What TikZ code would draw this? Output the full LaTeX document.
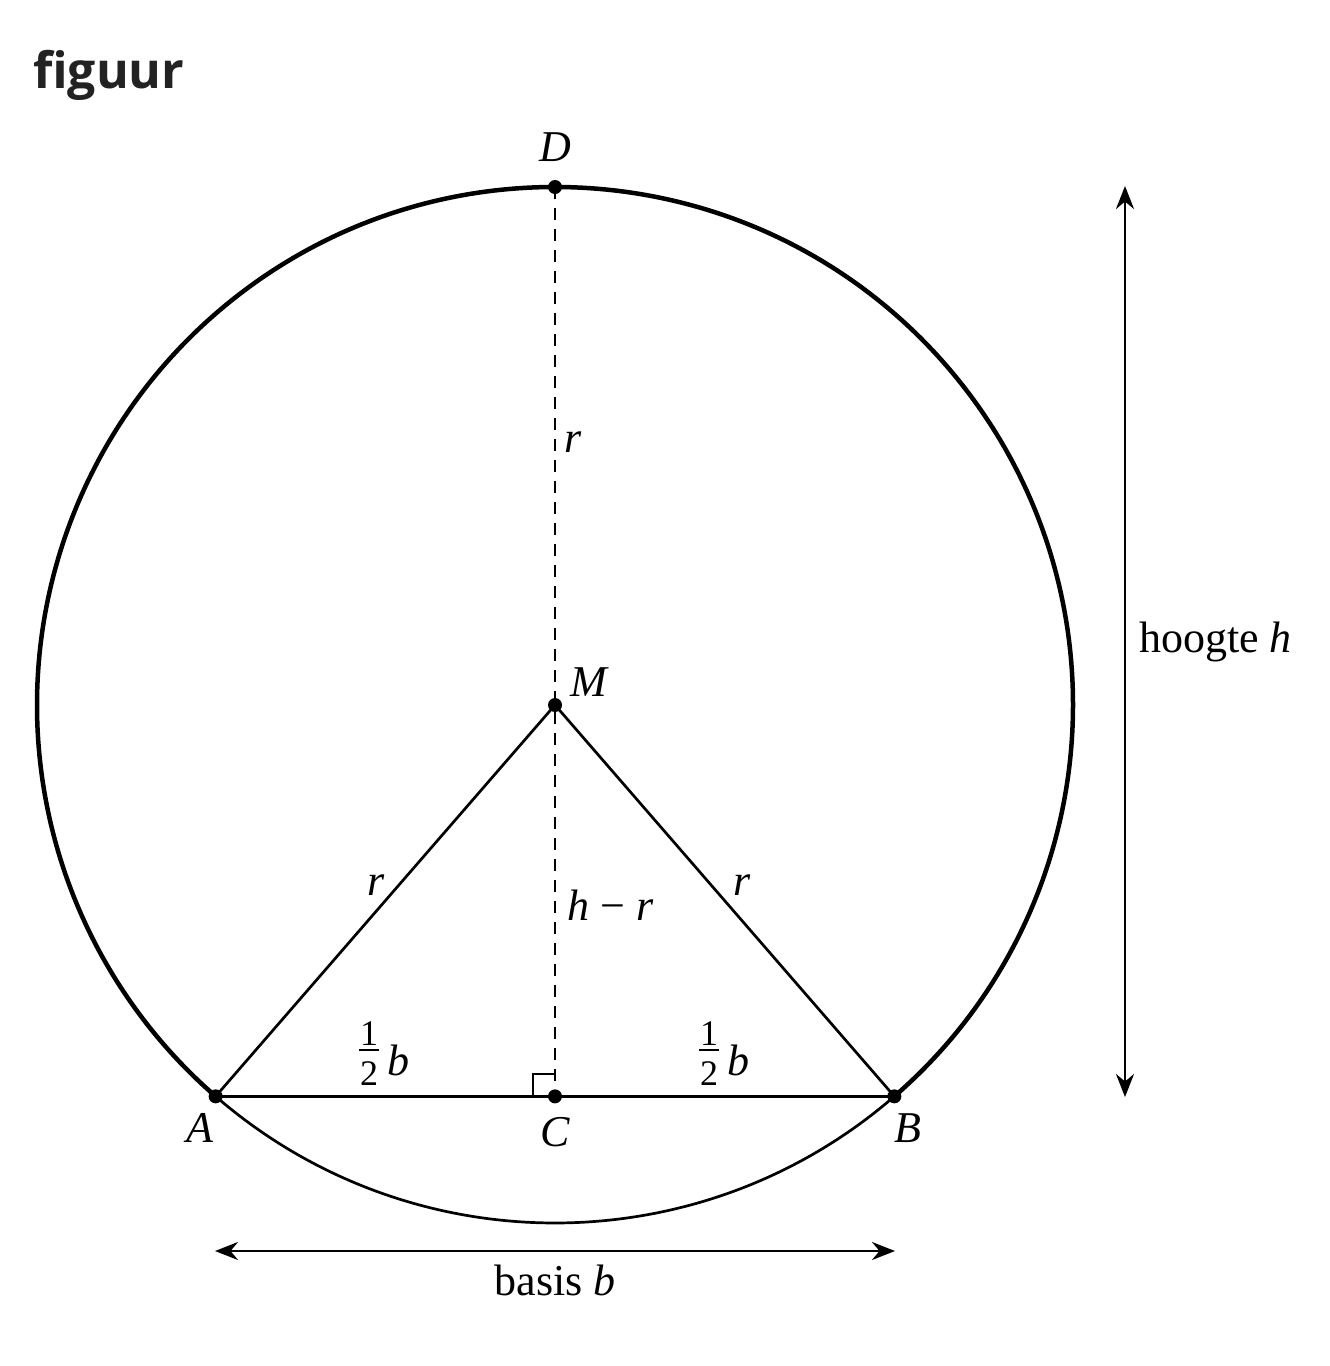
\documentclass[tikz,border=0pt]{standalone}
\usepackage{fontspec}
\setmainfont{Liberation Serif}
\newfontfamily\titlefont{Open Sans}
\usetikzlibrary{arrows.meta,calc}
\definecolor{titlegray}{HTML}{222222}
\newcommand\halfb{\makebox[20pt]{%
  \makebox[0pt]{\raisebox{30pt}{\fontsize{36}{36}\selectfont 1}}%
  \makebox[0pt]{\raisebox{24.2pt}{\rule{20pt}{1.6pt}}}%
  \makebox[0pt]{\raisebox{-10pt}{\fontsize{36}{36}\selectfont 2}}}%
  \hspace{8pt}\textit{b}}
\tikzset{
  thickarc/.style={line width=4.5pt},
  thinline/.style={line width=2.7pt},
  dashline/.style={line width=2pt, dash pattern=on 12pt off 9pt},
  dot/.style={circle, fill=black, inner sep=0pt, minimum size=14pt},
  lbl/.style={font=\fontsize{44}{50}\selectfont, inner sep=0pt},
  dimarrow/.style={line width=2.7pt, {Stealth[length=23pt,width=18pt]}-{Stealth[length=23pt,width=18pt]}},
}
\begin{document}
\begin{tikzpicture}[x=1pt,y=-1pt]
\fill[white] (0,0) rectangle (1330,1366);
\useasboundingbox (0,0) rectangle (1330,1366);
\node[anchor=base west, inner sep=0pt, text=titlegray, font=\titlefont\bfseries\fontsize{50}{56}\selectfont] (title) at (33,88) {figuur};

\coordinate (Mc) at (555,705);
\node[dot] (M) at (Mc) {};
\node[dot] (A) at ($(Mc)+(130.93:518)$) {};
\node[dot] (B) at ($(Mc)+(49.07:518)$) {};
\node[dot] (D) at ($(Mc)+(0,-518)$) {};
\node[dot] (C) at (A.center -| Mc) {};

% circle arcs
\draw[thickarc] (B.center) arc[start angle=49.07, end angle=-229.07, radius=518];
\draw[thinline] (B.center) arc[start angle=49.07, end angle=130.93, radius=518];

% triangle
\draw[thinline] (A.center) -- (M.center) -- (B.center);
\draw[thinline] (A.center) -- (B.center);
\draw[dashline] (D.center) -- (C.center);
% right angle
\draw[line width=2pt] ($(C.center)+(-22,0)$) -- ($(C.center)+(-22,-22)$) -- ($(C.center)+(0,-22)$);

% labels
\node[lbl] (lD) at (555,147) {\textit{D}};
\node[lbl] (lM) at (590,682) {\textit{M}};
\node[lbl] (lA) at (200,1128) {\textit{A}};
\node[lbl] (lC) at (555,1132) {\textit{C}};
\node[lbl] (lB) at (908,1128) {\textit{B}};
\node[lbl] (r1) at (573,442) {\textit{r}};
\node[lbl] (r2) at (376,885) {\textit{r}};
\node[lbl] (r3) at (742,885) {\textit{r}};
\node[lbl] (hr) at (611,905) {\textit{h} − \textit{r}};
\node[lbl, anchor=base west] (hb1) at (359,1075) {\halfb};
\node[lbl, anchor=base west] (hb2) at (699,1075) {\halfb};

% dimension arrows
\coordinate (ht) at (1125,186);
\coordinate (hb) at (1125,1097);
\draw[dimarrow] (ht) -- (hb);
\node[lbl, anchor=west] (hoogte) at (1139,642) {hoogte \textit{h}};

\coordinate (bl) at (215,1251);
\coordinate (br) at (895,1251);
\draw[dimarrow] (bl) -- (br);
\node[lbl] (basis) at (555,1280) {basis \textit{b}};
\end{tikzpicture}
\end{document}
